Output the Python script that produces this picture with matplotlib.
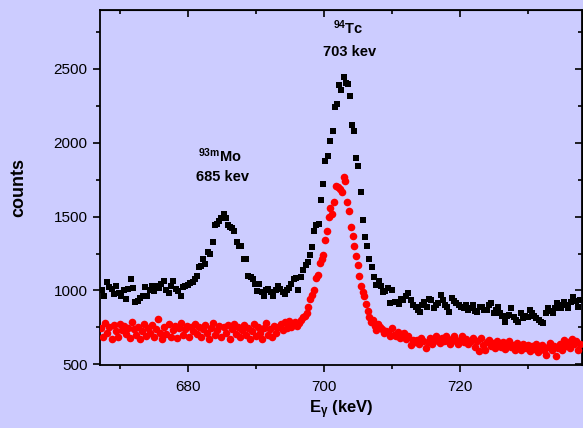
import numpy as np
import matplotlib
matplotlib.use('Agg')
import matplotlib.pyplot as plt

plt.rcParams['font.family'] = ['Liberation Sans', 'DejaVu Sans']
plt.rcParams['mathtext.fontset'] = 'custom'
plt.rcParams['mathtext.rm'] = 'Liberation Sans'
plt.rcParams['mathtext.bf'] = 'Liberation Sans:bold'

# black squares (measured spectrum)
black_e = [667.3, 667.6, 668.0, 668.4, 668.8, 669.1, 669.4, 669.8, 670.1, 670.5, 670.9, 671.2, 671.6, 671.9,
           672.2, 672.6, 672.9, 673.3, 673.7, 674.0, 674.3, 674.6, 675.0, 675.3, 675.7, 676.0, 676.4, 676.8,
           677.1, 677.5, 677.8, 678.2, 678.5, 678.9, 679.2, 679.6, 680.0, 680.3, 680.7, 681.0, 681.3, 681.6,
           681.9, 682.2, 682.5, 682.9, 683.2, 683.6, 683.9, 684.2, 684.6, 684.9, 685.2, 685.5, 685.9, 686.2,
           686.5, 686.8, 687.2, 687.5, 687.8, 688.2, 688.5, 688.8, 689.2, 689.5, 689.8, 690.2, 690.5, 690.8,
           691.2, 691.5, 691.8, 692.2, 692.5, 692.9, 693.2, 693.5, 693.9, 694.2, 694.5, 694.9, 695.2, 695.6,
           695.9, 696.2, 696.6, 696.9, 697.3, 697.6, 697.9, 698.2, 698.6, 698.9, 699.2, 699.5, 699.9, 700.2,
           700.6, 700.9, 701.3, 701.6, 701.9, 702.2, 702.5, 702.9, 703.2, 703.5, 703.8, 704.1, 704.4, 704.7,
           705.0, 705.4, 705.7, 706.1, 706.4, 706.7, 707.1, 707.4, 707.7, 708.1, 708.4, 708.7, 709.0, 709.4,
           709.7, 710.0, 710.4, 710.7, 711.0, 711.4, 711.7, 712.1, 712.4, 712.8, 713.1, 713.5, 713.8, 714.1,
           714.5, 714.8, 715.2, 715.5, 715.8, 716.2, 716.5, 716.8, 717.2, 717.5, 717.9, 718.2, 718.5, 718.9,
           719.2, 719.5, 719.9, 720.2, 720.6, 720.9, 721.2, 721.6, 721.9, 722.3, 722.6, 723.0, 723.3, 723.6,
           724.0, 724.3, 724.6, 725.0, 725.3, 725.6, 726.0, 726.3, 726.7, 727.0, 727.3, 727.6, 728.0, 728.3,
           728.6, 729.0, 729.3, 729.6, 730.0, 730.3, 730.7, 731.0, 731.3, 731.7, 732.0, 732.3, 732.7, 733.0,
           733.4, 733.7, 734.0, 734.4, 734.7, 735.0, 735.4, 735.7, 736.0, 736.4, 736.7, 737.1, 737.4, 737.8]
black_c = [1000, 965, 1055, 1025, 1010, 975, 1030, 980, 960, 1000, 945, 1010, 1075, 1015,
           925, 930, 950, 960, 1025, 960, 1000, 1030, 995, 1030, 1015, 1045, 1065, 1005,
           985, 1030, 1065, 1010, 995, 960, 1025, 1030, 1040, 1050, 1060, 1080, 1100, 1160,
           1165, 1210, 1180, 1260, 1250, 1330, 1440, 1450, 1470, 1490, 1520, 1490, 1440, 1430,
           1420, 1400, 1330, 1300, 1300, 1215, 1210, 1100, 1090, 1080, 1045, 995, 1045, 990,
           960, 1000, 1010, 990, 965, 1000, 1030, 1010, 990, 975, 1000, 1020, 1045, 1080,
           1085, 1005, 1090, 1140, 1170, 1195, 1240, 1295, 1400, 1445, 1450, 1615, 1720, 1875,
           1910, 2015, 2080, 2240, 2260, 2390, 2360, 2445, 2405, 2400, 2315, 2120, 2080, 1895,
           1840, 1665, 1480, 1365, 1300, 1210, 1160, 1090, 1040, 1065, 1030, 990, 995, 1015,
           915, 1000, 920, 925, 910, 940, 935, 960, 985, 935, 905, 890, 870, 855,
           900, 920, 890, 940, 935, 880, 900, 915, 970, 935, 905, 890, 855, 950,
           930, 915, 900, 885, 880, 900, 865, 880, 900, 860, 855, 890, 885, 870,
           865, 900, 915, 845, 870, 890, 845, 830, 790, 830, 835, 880, 820, 800,
           785, 845, 815, 830, 820, 865, 850, 830, 815, 800, 790, 780, 845, 880,
           860, 845, 880, 915, 900, 880, 920, 900, 880, 920, 955, 930, 890, 935]

# red circles (second spectrum)
red_e = [667.2, 667.5, 667.8, 668.1, 668.4, 668.7, 669.0, 669.3, 669.6, 669.9, 670.2, 670.5, 670.8, 671.1,
         671.4, 671.7, 672.0, 672.3, 672.6, 672.9, 673.2, 673.5, 673.8, 674.1, 674.4, 674.7, 675.0, 675.3,
         675.6, 675.9, 676.2, 676.5, 676.8, 677.1, 677.4, 677.7, 678.0, 678.3, 678.6, 678.9, 679.2, 679.5,
         679.8, 680.1, 680.4, 680.7, 681.0, 681.3, 681.6, 681.9, 682.2, 682.5, 682.8, 683.1, 683.4, 683.7,
         684.0, 684.3, 684.6, 684.9, 685.2, 685.5, 685.8, 686.1, 686.4, 686.7, 687.0, 687.3, 687.6, 687.9,
         688.2, 688.5, 688.8, 689.1, 689.4, 689.7, 690.0, 690.3, 690.6, 690.9, 691.2, 691.5, 691.8, 692.1,
         692.4, 692.7, 693.0, 693.3, 693.6, 693.9, 694.2, 694.5, 694.8, 695.1, 695.4, 695.7, 696.0, 696.3,
         696.6, 696.9, 697.2, 697.5, 697.7, 698.0, 698.3, 698.5, 698.8, 699.1, 699.4, 699.7, 699.9, 700.1,
         700.4, 700.7, 700.9, 701.2, 701.5, 701.8, 702.1, 702.4, 702.6, 702.9, 703.1, 703.4, 703.7, 704.0,
         704.3, 704.5, 704.7, 705.0, 705.2, 705.4, 705.7, 705.9, 706.2, 706.5, 706.7, 707.0, 707.2, 707.5,
         707.7, 708.0, 708.3, 708.6, 708.9, 709.1, 709.4, 709.7, 710.0, 710.3, 710.6, 710.9, 711.2, 711.5,
         711.8, 712.1, 712.4, 712.8, 713.1, 713.4, 713.7, 714.0, 714.3, 714.6, 715.0, 715.3, 715.6, 715.9,
         716.2, 716.5, 716.8, 717.1, 717.4, 717.7, 718.0, 718.3, 718.6, 718.9, 719.2, 719.5, 719.8, 720.1,
         720.4, 720.7, 721.0, 721.3, 721.6, 721.9, 722.2, 722.5, 722.8, 723.1, 723.4, 723.7, 724.0, 724.3,
         724.6, 724.9, 725.2, 725.5, 725.8, 726.1, 726.4, 726.7, 727.0, 727.3, 727.6, 727.9, 728.2, 728.5,
         728.8, 729.1, 729.4, 729.7, 730.0, 730.3, 730.6, 730.9, 731.2, 731.5, 731.8, 732.1, 732.4, 732.7,
         733.0, 733.3, 733.6, 733.9, 734.2, 734.5, 734.8, 735.1, 735.4, 735.7, 736.0, 736.3, 736.6, 736.9,
         737.2, 737.5, 737.8]
red_c = [745, 685, 783, 715, 753, 670, 768, 723, 685, 775, 730, 760, 708, 745,
         678, 790, 738, 700, 753, 670, 723, 775, 693, 745, 715, 768, 685, 738,
         805, 715, 670, 753, 708, 775, 685, 730, 760, 678, 745, 783, 700, 738,
         760, 685, 753, 723, 775, 708, 753, 685, 738, 768, 715, 670, 745, 783,
         700, 730, 760, 685, 753, 715, 768, 670, 738, 775, 708, 753, 685, 730,
         768, 700, 745, 670, 723, 775, 693, 753, 715, 670, 745, 783, 700, 738,
         685, 760, 715, 753, 775, 730, 790, 745, 795, 755, 770, 785, 760, 780,
         800, 820, 830, 850, 890, 940, 970, 1005, 1085, 1105, 1185, 1210, 1240, 1340,
         1400, 1500, 1560, 1515, 1600, 1705, 1700, 1690, 1670, 1765, 1740, 1600, 1535, 1430,
         1370, 1300, 1235, 1175, 1100, 1030, 990, 960, 910, 860, 820, 790, 800, 760,
         730, 770, 750, 740, 710, 725, 720, 690, 745, 700, 695, 720, 680, 705,
         710, 670, 690, 630, 665, 650, 665, 640, 675, 655, 610, 650, 675, 640,
         660, 690, 665, 645, 680, 655, 695, 660, 640, 670, 690, 660, 635, 665,
         690, 650, 670, 635, 660, 680, 620, 655, 590, 675, 630, 600, 650, 665,
         625, 645, 610, 660, 635, 620, 650, 605, 640, 660, 615, 630, 595, 645,
         620, 600, 640, 610, 630, 590, 625, 605, 640, 585, 610, 630, 595, 560,
         620, 645, 600, 625, 555, 610, 640, 600, 665, 625, 650, 610, 670, 635,
         655, 600, 640]

bg = '#ccccff'
fig = plt.figure(figsize=(5.83, 4.28), dpi=100, facecolor=bg)
ax = fig.add_axes([0.1715, 0.147, 0.8265, 0.830], facecolor=bg)

ax.scatter(black_e, black_c, marker='s', s=18, c='black', linewidths=0, zorder=3)
ax.scatter(red_e, red_c, marker='o', s=30, c='#ff0000', linewidths=0, zorder=3)

ax.set_xlim(667, 738)
ax.set_ylim(495, 2900)
ax.set_xticks([680, 700, 720])
ax.set_xticks([670, 690, 710, 730], minor=True)
ax.set_yticks([500, 1000, 1500, 2000, 2500])
ax.set_yticks([750, 1250, 1750, 2250, 2750], minor=True)

for s in ax.spines.values():
    s.set_linewidth(1.3)

ax.tick_params(which='both', direction='out', width=1.2, labelsize=11)
ax.tick_params(which='major', length=5)
ax.tick_params(which='minor', length=3)
ax.tick_params(axis='x', pad=6)
ax.tick_params(axis='y', pad=4)

# mirrored ticks on top and right, pointing inward
axt = ax.secondary_xaxis('top')
axt.set_xticks([680, 700, 720])
axt.set_xticks([670, 690, 710, 730], minor=True)
axt.tick_params(which='both', direction='in', width=1.2, labeltop=False)
axt.tick_params(which='major', length=5)
axt.tick_params(which='minor', length=3)
axr = ax.secondary_yaxis('right')
axr.set_yticks([500, 1000, 1500, 2000, 2500])
axr.set_yticks([750, 1250, 1750, 2250, 2750], minor=True)
axr.tick_params(which='both', direction='in', width=1.2, labelright=False)
axr.tick_params(which='major', length=5)
axr.tick_params(which='minor', length=3)

ax.set_xlabel(r'$\mathbf{E_\gamma}$ (keV)', fontsize=12, fontweight='bold', labelpad=3)
ax.set_ylabel('counts', fontsize=13, fontweight='bold', labelpad=19)

ax.text(703.6, 2780, r'$\mathbf{^{94}}$Tc', fontsize=10.5, fontweight='bold', ha='center', va='center')
ax.text(703.8, 2615, '703 kev', fontsize=10.5, fontweight='bold', ha='center', va='center')
ax.text(684.7, 1910, r'$\mathbf{^{93m}}$Mo', fontsize=10.5, fontweight='bold', ha='center', va='center')
ax.text(685.0, 1765, '685 kev', fontsize=10.5, fontweight='bold', ha='center', va='center')

fig.savefig('out.png', dpi=100, facecolor=bg)
